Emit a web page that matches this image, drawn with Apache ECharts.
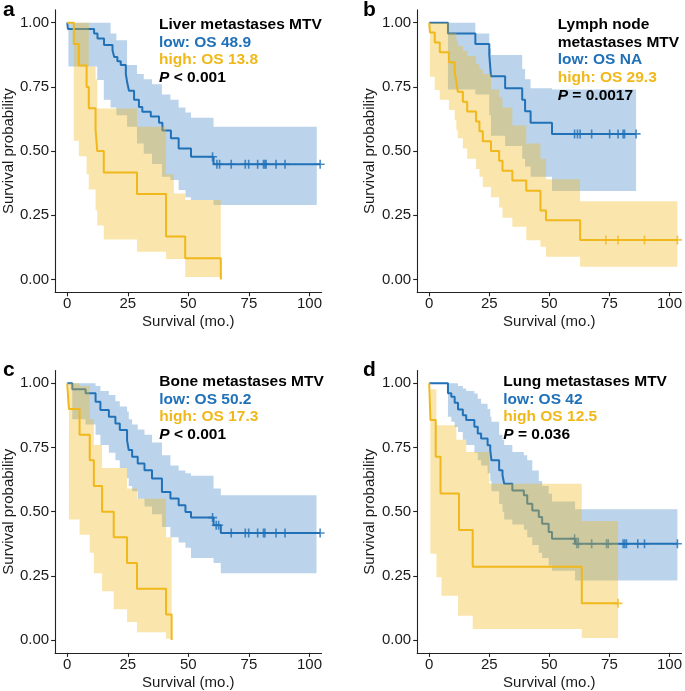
<!DOCTYPE html>
<html><head><meta charset="utf-8">
<script src="https://cdn.jsdelivr.net/npm/echarts@6/dist/echarts.min.js"></script>
<style>html,body{margin:0;padding:0;background:#fff}#c{width:685px;height:691px}</style>
</head><body><div id="c"></div>
<script>
// ---------- tick labels ----------
const xTicks = [0, 25, 50, 75, 100];
const yTicks = [0, 0.25, 0.5, 0.75, 1];

// ---------- panel a : Liver ----------
const aLowT = [0, 0.3, 11.1, 12.5, 15.2, 18.7, 19.4, 20.7, 22.1, 24.2, 24.8, 25.5, 27.6, 29.6, 31, 34.5, 37.9, 39.3, 42.8, 46, 51.1, 60.4, 104.4];
const aLowS = [1, 0.976, 0.958, 0.939, 0.913, 0.893, 0.867, 0.85, 0.835, 0.80, 0.765, 0.735, 0.70, 0.672, 0.653, 0.635, 0.61, 0.58, 0.55, 0.51, 0.478, 0.449, 0.449];
const aLowCiT = [0, 0.5, 12.4, 15.1, 17.9, 20.3, 24.7, 28.8, 31.6, 35, 39.1, 42.6, 46, 48.8, 51.1, 60.4, 103];
const aLowLo = [1, 0.83, 0.777, 0.70, 0.67, 0.64, 0.595, 0.53, 0.49, 0.45, 0.40, 0.387, 0.348, 0.32, 0.31, 0.29, 0.29];
const aLowHi = [1, 1, 1, 1, 0.958, 0.932, 0.835, 0.80, 0.78, 0.76, 0.72, 0.70, 0.67, 0.65, 0.63, 0.595, 0.595];
const aLowCens = [60, 61.8, 62.9, 67.7, 73.5, 74.9, 78.6, 81, 81.6, 82.1, 86.2, 89.9, 104.4];
const aHighT = [0, 2.7, 4.8, 8.0, 8.9, 11.7, 12.4, 15.1, 28.8, 40.8, 48.7, 63.4];
const aHighS = [1, 0.917, 0.833, 0.75, 0.667, 0.583, 0.5, 0.417, 0.333, 0.167, 0.083, 0];
const aHighCiT = [0, 2.7, 4.8, 8.0, 8.9, 11.7, 12.4, 15.1, 28.8, 40.8, 44, 48.7, 63.4];
const aHighLo = [1, 0.54, 0.48, 0.41, 0.35, 0.27, 0.21, 0.156, 0.108, 0.08, 0.08, 0.01, 0.01];
const aHighHi = [1, 1, 1, 1, 0.83, 0.78, 0.666, 0.666, 0.595, 0.41, 0.335, 0.31, 0.31];
const aHighCens = [];
const aNote = ['Liver metastases MTV', 'low: OS 48.9', 'high: OS 13.8', ' < 0.001'];

// ---------- panel b : Lymph node ----------
const bLowT = [0, 7.8, 19.2, 25, 25.7, 31.6, 38.7, 39.9, 42.2, 51.1, 86.1];
const bLowS = [1, 0.958, 0.917, 0.875, 0.792, 0.745, 0.70, 0.655, 0.61, 0.567, 0.567];
const bLowCiT = [0, 7.8, 19.2, 25, 25.7, 31.6, 38.7, 39.9, 42.2, 51.1, 86.1];
const bLowLo = [1, 0.74, 0.72, 0.64, 0.56, 0.52, 0.47, 0.44, 0.40, 0.345, 0.345];
const bLowHi = [1, 1, 0.958, 0.90, 0.874, 0.874, 0.82, 0.78, 0.745, 0.74, 0.74];
const bLowCens = [60.5, 61.7, 62.8, 67.6, 75.1, 78.6, 80.7, 81.3, 86.1];
const bHighT = [0, 0.3, 2.3, 4.4, 8.2, 10.6, 11.3, 11.9, 14, 15.8, 19.5, 20.9, 22.3, 25.7, 29.1, 30.5, 34.6, 40.4, 46.3, 48.6, 62.8, 103.3];
const bHighS = [1, 0.962, 0.923, 0.885, 0.846, 0.808, 0.769, 0.731, 0.692, 0.654, 0.615, 0.577, 0.538, 0.5, 0.462, 0.423, 0.385, 0.346, 0.269, 0.231, 0.154, 0.154];
const bHighCiT = [0, 0.3, 2.3, 4.4, 8.2, 10.6, 11.3, 11.9, 14, 15.8, 19.5, 20.9, 22.3, 25.7, 29.1, 30.5, 34.6, 40.4, 46.3, 48.6, 62.8, 103.3];
const bHighLo = [1, 0.79, 0.738, 0.70, 0.66, 0.62, 0.58, 0.55, 0.51, 0.47, 0.43, 0.40, 0.36, 0.32, 0.28, 0.24, 0.205, 0.153, 0.127, 0.088, 0.05, 0.05];
const bHighHi = [1, 1, 1, 1, 0.96, 0.96, 0.93, 0.91, 0.89, 0.87, 0.84, 0.82, 0.80, 0.74, 0.71, 0.67, 0.60, 0.53, 0.47, 0.39, 0.305, 0.305];
const bHighCens = [73.5, 78.6, 89.6, 103.3];
const bNote = ['Lymph node', 'metastases MTV', 'low: OS NA', 'high: OS 29.3', ' = 0.0017'];

// ---------- panel c : Bone ----------
const cLowT = [0, 2.1, 7.6, 11.7, 13.7, 17.2, 19.9, 21.7, 24.7, 25.4, 26.8, 29.1, 31.9, 35, 39.1, 42.6, 46, 48.8, 51.1, 60.4, 63.4, 104.4];
const cLowS = [1, 0.977, 0.961, 0.928, 0.896, 0.87, 0.844, 0.818, 0.779, 0.74, 0.714, 0.688, 0.661, 0.629, 0.577, 0.551, 0.525, 0.499, 0.477, 0.447, 0.417, 0.417];
const cLowCiT = [0, 2.1, 7.6, 11.7, 13.7, 17.2, 19.9, 21.7, 24.7, 25.4, 26.8, 29.1, 31.9, 35, 39.1, 42.6, 46, 48.8, 51.1, 60.4, 63.4, 102.9];
const cLowLo = [1, 0.86, 0.84, 0.80, 0.76, 0.73, 0.70, 0.67, 0.63, 0.60, 0.58, 0.55, 0.52, 0.49, 0.44, 0.40, 0.38, 0.36, 0.32, 0.30, 0.26, 0.26];
const cLowHi = [1, 1, 1, 0.99, 0.97, 0.955, 0.93, 0.91, 0.89, 0.86, 0.84, 0.82, 0.80, 0.77, 0.72, 0.68, 0.66, 0.65, 0.64, 0.59, 0.564, 0.564];
const cLowCens = [60, 61.5, 62.5, 67.7, 73.5, 74.9, 78.6, 81, 81.6, 86.2, 89.9, 104.4];
const cHighT = [0, 0.7, 5.1, 9.3, 11, 14.4, 19.2, 24.7, 28.8, 40.8, 43.1];
const cHighS = [1, 0.9, 0.8, 0.7, 0.6, 0.5, 0.4, 0.3, 0.2, 0.1, 0];
const cHighCiT = [0, 0.7, 5.1, 9.3, 11, 14.4, 19.2, 24.7, 28.8, 40.8, 43.1];
const cHighLo = [1, 0.47, 0.41, 0.34, 0.26, 0.19, 0.12, 0.07, 0.03, 0.005, 0.005];
const cHighHi = [1, 1, 0.99, 0.86, 0.76, 0.67, 0.67, 0.59, 0.55, 0.40, 0.40];
const cHighCens = [];
const cNote = ['Bone metastases MTV', 'low: OS 50.2', 'high: OS 17.3', ' < 0.001'];

// ---------- panel d : Lung ----------
const dLowT = [0, 7.8, 9.2, 10.6, 12.0, 14.0, 15.4, 18.8, 20.2, 21.6, 24.3, 25.4, 25.9, 29.1, 30.5, 31.2, 34.6, 39.4, 40.8, 42.9, 45.6, 47.0, 49.7, 51.1, 60.7, 103.3];
const dLowS = [1, 0.961, 0.948, 0.924, 0.898, 0.876, 0.857, 0.831, 0.805, 0.785, 0.759, 0.74, 0.70, 0.661, 0.642, 0.609, 0.583, 0.564, 0.531, 0.505, 0.479, 0.453, 0.421, 0.395, 0.375, 0.375];
const dLowCiT = [0, 7.8, 9.2, 10.6, 12.0, 14.0, 15.4, 18.8, 20.2, 21.6, 24.3, 25.4, 25.9, 29.1, 30.5, 31.2, 34.6, 39.4, 40.8, 42.9, 45.6, 47.0, 49.7, 51.1, 60.7, 103.3];
const dLowLo = [1, 0.87, 0.85, 0.83, 0.81, 0.78, 0.76, 0.73, 0.70, 0.68, 0.65, 0.62, 0.58, 0.53, 0.50, 0.47, 0.45, 0.43, 0.40, 0.37, 0.34, 0.32, 0.29, 0.27, 0.232, 0.232];
const dLowHi = [1, 1, 1, 1, 0.99, 0.98, 0.97, 0.96, 0.94, 0.92, 0.90, 0.87, 0.85, 0.80, 0.78, 0.76, 0.733, 0.72, 0.70, 0.66, 0.62, 0.60, 0.57, 0.54, 0.51, 0.51];
const dLowCens = [60.5, 61.4, 62.1, 67.6, 73.8, 74.5, 80.7, 81.4, 82.1, 86.8, 89.6, 103.3];
const dHighT = [0, 0.5, 2.7, 4.7, 12.4, 18.1, 63.5, 78.6];
const dHighS = [1, 0.857, 0.714, 0.571, 0.429, 0.286, 0.143, 0.143];
const dHighCiT = [0, 0.5, 3.0, 5.1, 11.3, 12.0, 15.4, 18.1, 25, 63.5, 78.6];
const dHighLo = [1, 0.336, 0.245, 0.173, 0.173, 0.095, 0.095, 0.043, 0.043, 0.008, 0.008];
const dHighHi = [1, 0.977, 0.837, 0.837, 0.78, 0.78, 0.733, 0.733, 0.609, 0.464, 0.464];
const dHighCens = [78.6];
const dNote = ['Lung metastases MTV', 'low: OS 42', 'high OS 12.5', ' = 0.036'];

// ---------- styling ----------
const FONT = '"Liberation Sans", Arial, Helvetica, sans-serif';
const BLUE = '#2171B8', YEL = '#F0B81A';
const BLUE_FILL = 'rgba(30,112,190,0.30)', YEL_FILL = 'rgba(240,184,26,0.36)';
const INK = '#1a1a1a';
const PLUS = 'path://M-1,-0.18H1V0.18H-1Z M-0.18,-1H0.18V1H-0.18Z';

const panels = [
  {left: 54.6, top: 9.9, letter: 'a', lx: 3, ly: 10, nameGap: 37, noteX: 159, noteY: 25, note: aNote,
   low: [aLowT, aLowS, aLowCiT, aLowLo, aLowHi, aLowCens], high: [aHighT, aHighS, aHighCiT, aHighLo, aHighHi, aHighCens]},
  {left: 417.2, top: 9.9, letter: 'b', lx: 363, ly: 10, nameGap: 40, noteX: 557.7, noteY: 25, note: bNote,
   low: [bLowT, bLowS, bLowCiT, bLowLo, bLowHi, bLowCens], high: [bHighT, bHighS, bHighCiT, bHighLo, bHighHi, bHighCens]},
  {left: 54.6, top: 370.5, letter: 'c', lx: 3, ly: 370, nameGap: 37, noteX: 159.3, noteY: 381.7, note: cNote,
   low: [cLowT, cLowS, cLowCiT, cLowLo, cLowHi, cLowCens], high: [cHighT, cHighS, cHighCiT, cHighLo, cHighHi, cHighCens]},
  {left: 417.2, top: 370.5, letter: 'd', lx: 363, ly: 370, nameGap: 40, noteX: 503.3, noteY: 381.7, note: dNote,
   low: [dLowT, dLowS, dLowCiT, dLowLo, dLowHi, dLowCens], high: [dHighT, dHighS, dHighCiT, dHighLo, dHighHi, dHighCens]}
];

function survAt(T, S, t) {
  let v = S[0];
  for (let i = 0; i < T.length; i++) { if (T[i] <= t) v = S[i]; }
  return v;
}

const grid = [], xAxis = [], yAxis = [], series = [], graphic = [];
const axisLineStyle = {color: '#222', width: 1.1};

panels.forEach((p, gi) => {
  grid.push({left: p.left, top: p.top, width: 267, height: 282.4});
  xAxis.push({
    type: 'value', gridIndex: gi, min: -5, max: 105,
    axisLine: {show: true, onZero: false, lineStyle: axisLineStyle},
    axisTick: {show: true, length: 4, customValues: xTicks, lineStyle: axisLineStyle},
    axisLabel: {customValues: xTicks, fontSize: 15, color: INK, margin: 4, fontFamily: FONT},
    splitLine: {show: false},
    name: 'Survival (mo.)', nameLocation: 'middle', nameGap: 22,
    nameTextStyle: {fontSize: 15, color: INK, fontFamily: FONT}
  });
  yAxis.push({
    type: 'value', gridIndex: gi, min: -0.05, max: 1.05,
    axisLine: {show: true, onZero: false, lineStyle: axisLineStyle},
    axisTick: {show: true, length: 4, customValues: yTicks, lineStyle: axisLineStyle},
    axisLabel: {customValues: yTicks, fontSize: 15, color: INK, margin: 6, fontFamily: FONT,
                formatter: v => Number(v).toFixed(2)},
    splitLine: {show: false},
    name: 'Survival probability', nameLocation: 'middle', nameGap: p.nameGap,
    nameTextStyle: {fontSize: 15, color: INK, fontFamily: FONT}
  });

  const addCurve = (d, color, fill, z) => {
    const [T, S, CT, LO, HI, CENS] = d;
    series.push({
      type: 'custom', xAxisIndex: gi, yAxisIndex: gi, z: z, silent: true, clip: false, animation: false,
      data: CT.map((t, i) => [t, LO[i], HI[i]]),
      encode: {x: 0, y: [1, 2]},
      renderItem: (params, api) => {
        if (params.dataIndex !== 0) return null;
        const pts = [];
        for (let i = 0; i < CT.length - 1; i++) {
          pts.push(api.coord([CT[i], HI[i]]));
          pts.push(api.coord([CT[i + 1], HI[i]]));
        }
        for (let i = CT.length - 2; i >= 0; i--) {
          pts.push(api.coord([CT[i + 1], LO[i]]));
          pts.push(api.coord([CT[i], LO[i]]));
        }
        return {type: 'polygon', shape: {points: pts}, style: {fill: fill}};
      }
    });
    series.push({
      type: 'line', xAxisIndex: gi, yAxisIndex: gi, z: z + 1, step: 'end', symbol: 'none',
      silent: true, animation: false,
      data: T.map((t, i) => [t, S[i]]),
      lineStyle: {color: color, width: 2}
    });
    if (CENS.length) {
      series.push({
        type: 'scatter', xAxisIndex: gi, yAxisIndex: gi, z: z + 1, silent: true, animation: false,
        data: CENS.map(t => [t, survAt(T, S, t)]),
        symbol: PLUS, symbolSize: 9, symbolKeepAspect: true,
        itemStyle: {color: color}
      });
    }
  };
  addCurve(p.low, BLUE, BLUE_FILL, 2);
  addCurve(p.high, YEL, YEL_FILL, 4);

  // panel letter
  graphic.push({type: 'text', x: p.lx, y: p.ly, z: 10,
    style: {text: p.letter, font: 'bold 21px ' + FONT, fill: '#000', verticalAlign: 'middle'}});
  // annotation
  const lh = 17.6;
  const n = p.note.length;
  p.note.forEach((s, k) => {
    let fill = '#000';
    if (k === n - 3) fill = BLUE;
    if (k === n - 2) fill = YEL;
    const el = {type: 'text', x: p.noteX, y: p.noteY + k * lh, z: 10, style: {
      font: 'bold 15.5px ' + FONT, fill: fill, verticalAlign: 'middle'}};
    if (k === n - 1) {
      el.style.text = '{i|P}{b|' + s + '}';
      el.style.rich = {
        i: {fontFamily: FONT, fontSize: 15.5, fontWeight: 'bold', fontStyle: 'italic', fill: '#000'},
        b: {fontFamily: FONT, fontSize: 15.5, fontWeight: 'bold', fill: '#000'}
      };
    } else {
      el.style.text = s;
    }
    graphic.push(el);
  });
});

const chart = echarts.init(document.getElementById('c'), null, {renderer: 'canvas'});
chart.setOption({
  animation: false,
  backgroundColor: '#fff',
  textStyle: {fontFamily: FONT},
  grid, xAxis, yAxis, series, graphic
});
</script>
</body></html>
